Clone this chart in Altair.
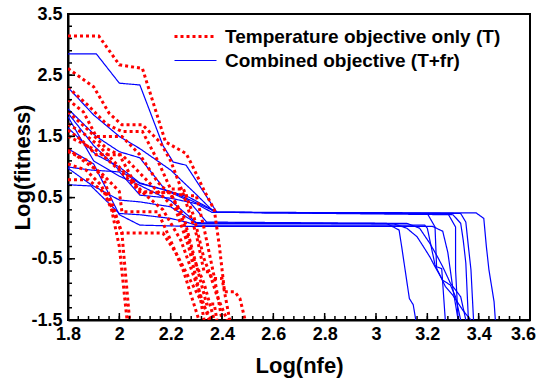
import altair as alt
import pandas as pd

SERIES = ["Temperature objective only (T)", "Combined objective (T+fr)"]

# Temperature objective only (T): each run is a list of (log nfe, log fitness)
temp_runs = [
    [(1.8, 3.14), (1.92, 3.14), (2.0, 2.67), (2.09, 2.61), (2.18, 1.41), (2.26, 1.22), (2.28, 1.06),
     (2.33, 0.62), (2.37, 0.3), (2.39, -0.3), (2.41, -1.04), (2.45, -1.04), (2.47, -1.15), (2.49, -1.5)],
    [(1.8, 2.61), (1.9, 2.31), (1.96, 1.88), (2.01, 1.69), (2.09, 1.69), (2.16, 1.4), (2.2, 1.1),
     (2.25, 0.55), (2.3, -0.1), (2.33, -0.71), (2.35, -0.71), (2.38, -1.1), (2.42, -1.5)],
    [(1.8, 2.3), (1.88, 2.0), (1.95, 1.7), (2.01, 1.58), (2.09, 1.58), (2.15, 1.1), (2.2, 0.64),
     (2.25, 0.64), (2.29, 0.2), (2.33, -0.5), (2.36, -0.82), (2.4, -0.82), (2.43, -1.5)],
    [(1.8, 2.1), (1.86, 1.9), (1.91, 1.5), (2.01, 1.5), (2.08, 1.2), (2.15, 0.75), (2.2, 0.55),
     (2.25, 0.2), (2.3, -0.6), (2.34, -1.24), (2.37, -1.24), (2.38, -1.5)],
    [(1.8, 1.9), (1.88, 1.6), (1.95, 1.3), (2.0, 1.2), (2.08, 0.58), (2.2, 0.58), (2.26, 0.53),
     (2.3, 0.53), (2.33, 0.0), (2.37, -0.8), (2.4, -1.5)],
    [(1.8, 1.6), (1.85, 1.45), (1.91, 1.2), (2.01, 1.2), (2.08, 0.9), (2.15, 0.6), (2.22, 0.3),
     (2.27, -0.3), (2.31, -1.0), (2.33, -1.5)],
    [(1.8, 1.3), (1.86, 1.1), (1.93, 0.9), (2.0, 0.6), (2.01, 0.27), (2.15, 0.27), (2.2, -0.2),
     (2.25, -0.7), (2.28, -1.1), (2.31, -1.5)],
    [(1.8, 1.25), (1.88, 1.1), (1.94, 0.8), (1.98, 0.3), (2.01, -0.08), (2.04, -1.5)],
    [(1.8, 1.05), (1.87, 0.95), (1.93, 0.7), (1.97, 0.3), (2.0, -0.3), (2.03, -1.5)],
    [(1.8, 0.79), (1.88, 0.79), (1.95, 0.55), (2.01, -0.08), (2.17, -0.08), (2.22, -0.4),
     (2.27, -0.8), (2.32, -1.2), (2.36, -1.5)],
    [(1.8, 1.5), (1.85, 1.4), (1.92, 1.25), (2.0, 0.95), (2.08, 0.6), (2.2, 0.58), (2.25, 0.1),
     (2.29, -0.5), (2.33, -0.9), (2.37, -1.5)],
    [(1.8, 1.7), (1.86, 1.55), (1.92, 1.35), (2.0, 1.0), (2.1, 0.55), (2.17, 0.3), (2.24, -0.2),
     (2.3, -0.9), (2.35, -1.5)],
]

# Combined objective (T+fr)
comb_runs = [
    [(1.8, 2.85), (1.91, 2.85), (2.0, 2.37), (2.08, 2.34), (2.17, 1.35), (2.21, 1.08), (2.26, 1.03),
     (2.38, 0.26), (3.39, 0.25), (3.42, 0.16), (3.43, -0.3), (3.44, -0.68), (3.46, -1.2), (3.465, -1.5)],
    [(1.8, 2.3), (1.9, 1.85), (2.0, 1.5), (2.08, 1.3), (2.2, 0.95), (2.3, 0.55), (2.37, 0.26),
     (3.33, 0.24), (3.35, 0.1), (3.36, -0.3), (3.37, -0.68), (3.38, -1.5)],
    [(1.8, 1.95), (1.91, 1.5), (2.0, 1.25), (2.08, 1.15), (2.18, 0.62), (2.27, 0.51), (2.38, 0.26),
     (3.30, 0.22), (3.33, 0.08), (3.34, -0.2), (3.35, -0.57), (3.36, -1.5)],
    [(1.8, 1.64), (1.91, 1.2), (2.0, 1.0), (2.08, 0.74), (2.2, 0.6), (2.26, 0.49), (2.38, 0.26),
     (3.28, 0.24), (3.31, 0.02), (3.31, -0.68), (3.32, -1.5)],
    [(1.8, 1.0), (1.89, 0.95), (2.0, 0.92), (2.08, 0.54), (2.2, 0.49), (2.3, 0.4), (2.36, 0.26),
     (3.2, 0.24), (3.23, 0.02), (3.236, -0.63), (3.256, -0.66), (3.27, -1.5)],
    [(1.8, 1.88), (1.9, 1.35), (2.0, 0.95), (2.08, 0.73), (2.18, 0.62), (2.27, 0.45), (2.34, 0.10),
     (3.04, 0.08), (3.09, -0.03), (3.1, -0.3), (3.13, -1.15), (3.145, -1.25), (3.155, -1.5)],
    [(1.8, 1.82), (1.9, 1.1), (2.0, 0.85), (2.08, 0.7), (2.2, 0.45), (2.3, 0.09),
     (3.07, 0.07), (3.12, 0.0), (3.16, -0.14), (3.18, -0.27), (3.21, -0.47), (3.23, -0.63),
     (3.26, -0.85), (3.29, -0.93), (3.31, -1.12), (3.33, -1.5)],
    [(1.8, 0.98), (1.89, 0.71), (2.0, 0.46), (2.08, 0.43), (2.2, 0.35), (2.3, 0.08),
     (3.12, 0.08), (3.17, 0.0), (3.21, -0.25), (3.24, -0.47), (3.26, -0.63), (3.29, -0.9),
     (3.33, -1.12), (3.35, -1.5)],
    [(1.8, 0.71), (1.89, 0.69), (2.0, 0.24), (2.08, 0.22), (2.2, 0.16), (2.26, 0.1), (2.3, 0.05),
     (3.19, 0.05), (3.2, 0.0), (3.23, -0.6), (3.27, -0.95), (3.3, -1.1), (3.34, -1.35), (3.37, -1.5)],
    [(1.8, 1.3), (1.9, 1.05), (2.0, 0.22), (2.08, 0.05), (2.18, 0.04), (2.27, 0.03),
     (3.22, 0.03), (3.26, -0.05), (3.28, -0.4), (3.3, -1.0), (3.32, -1.5)],
]

x_major = [1.8, 2.0, 2.2, 2.4, 2.6, 2.8, 3.0, 3.2, 3.4, 3.6]
x_minor = [round(1.8 + 0.04 * i, 2) for i in range(46)]
y_major = [-1.5, -0.5, 0.5, 1.5, 2.5, 3.5]
y_minor = [round(-1.5 + 0.2 * i, 1) for i in range(26)]


def to_frame(runs, series, prefix):
    rows = []
    for r, run in enumerate(runs):
        for k, (xv, yv) in enumerate(run):
            rows.append({"x": xv, "y": yv, "series": series, "run": f"{prefix}{r}", "k": k})
    return pd.DataFrame(rows)


df_t = to_frame(temp_runs, SERIES[0], "t")
df_c = to_frame(comb_runs, SERIES[1], "c")

FONT = "Liberation Sans"
W, H = 462, 306

xscale = alt.Scale(domain=[1.8, 3.6], nice=False, zero=False)
yscale = alt.Scale(domain=[-1.5, 3.5], nice=False, zero=False)

color = alt.Color("series:N", scale=alt.Scale(domain=SERIES, range=["#ff0000", "#0000ff"]),
                  legend=alt.Legend(title=None, orient="none", legendX=118, legendY=13,
                                    symbolType="M-4.2,0H4.2", symbolSize=100, labelOffset=20,
                                    labelFont=FONT, labelFontSize=19, labelFontWeight="bold",
                                    labelColor="black", rowPadding=4, padding=0, labelLimit=400))
dash = alt.StrokeDash("series:N", scale=alt.Scale(domain=SERIES, range=[[3, 3], [1, 0]]), legend=None)
swidth = alt.StrokeWidth("series:N", scale=alt.Scale(domain=SERIES, range=[3, 1.2]), legend=None)

ylabel_expr = "datum.value < 0 ? '-' + format(abs(datum.value), '.1f') : format(datum.value, '.1f')"

blue = alt.Chart(df_c).mark_line(clip=True).encode(
    x=alt.X("x:Q", scale=xscale, axis=alt.Axis(
        values=x_major, format="~g", ticks=False, grid=False, labelFlush=False,
        labelOffset={"condition": {"test": "datum.value >= 3.59", "value": -7}, "value": 0},
        title="Log(nfe)", labelPadding=5, titlePadding=12)),
    y=alt.Y("y:Q", scale=yscale, axis=alt.Axis(values=y_major, labelExpr=ylabel_expr, ticks=False,
                                               grid=False, labelFlush=False, title="Log(fitness)",
                                               labelPadding=6, titlePadding=-4)),
    color=color, strokeDash=dash, strokeWidth=swidth,
    detail="run:N", order="k:Q",
)

red = alt.Chart(df_t).mark_line(clip=True).encode(
    x=alt.X("x:Q", scale=xscale, axis=None),
    y=alt.Y("y:Q", scale=yscale, axis=None),
    color=color, strokeDash=dash, strokeWidth=swidth,
    detail="run:N", order="k:Q",
)


def xticks(vals, size):
    d = pd.DataFrame({"v": vals})
    return alt.Chart(d).mark_rule(color="black", strokeWidth=1.5).encode(
        x=alt.X("v:Q", scale=xscale, axis=None),
        y=alt.value(H), y2=alt.value(H - size))


def yticks(vals, size):
    d = pd.DataFrame({"v": vals})
    return alt.Chart(d).mark_rule(color="black", strokeWidth=1.5).encode(
        y=alt.Y("v:Q", scale=yscale, axis=None),
        x=alt.value(0), x2=alt.value(size))


chart = alt.layer(
    blue, red,
    xticks(x_minor, 4), xticks(x_major, 7),
    yticks(y_minor, 4), yticks(y_major, 7),
).resolve_axis(x="independent", y="independent").properties(
    width=W, height=H,
    background="white",
    autosize=alt.AutoSizeParams(type="none"),
    padding={"left": 68, "top": 14, "right": 10, "bottom": 64},
).configure_view(stroke="black", strokeWidth=2).configure_axis(
    labelFont=FONT, labelFontSize=18, labelFontWeight="bold", labelColor="black",
    titleFont=FONT, titleFontSize=22, titleFontWeight="bold", titleColor="black",
    domainColor="black", domainWidth=2,
)

chart.save("out.html", embed_options={"renderer": "svg", "actions": False})
